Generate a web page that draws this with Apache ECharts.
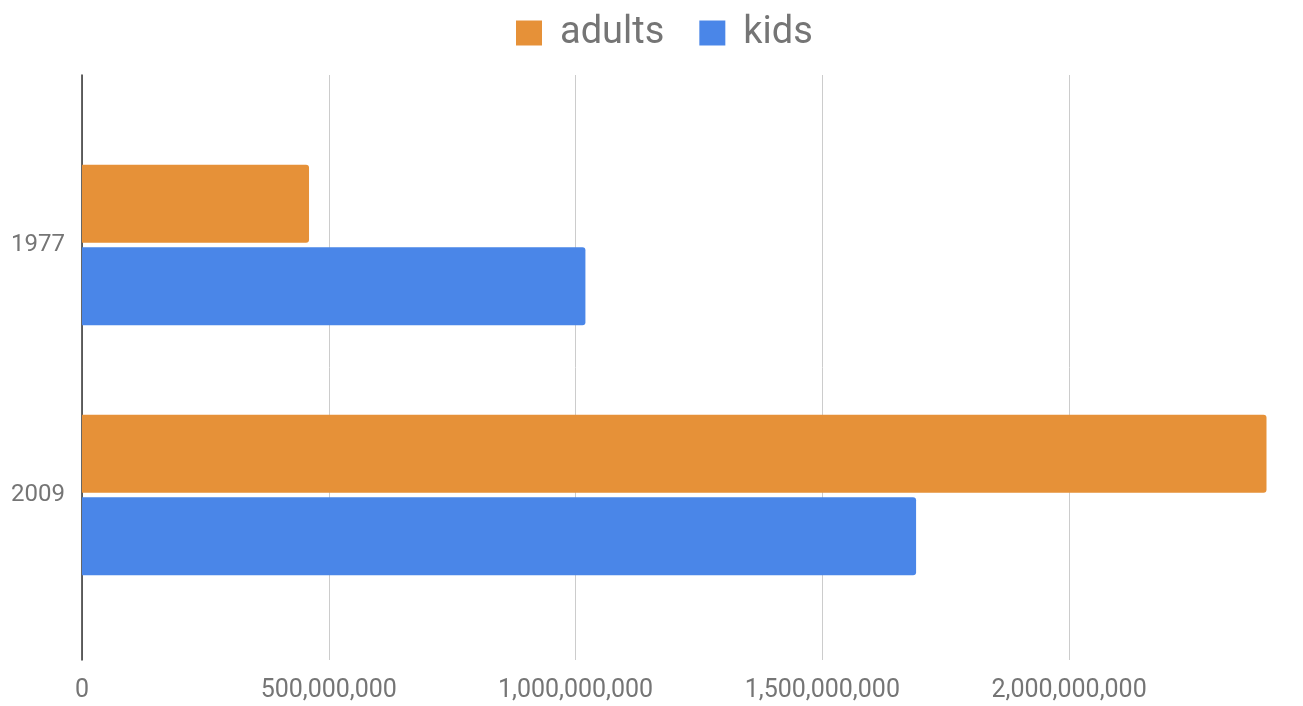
<!DOCTYPE html>
<html><head><meta charset="utf-8">
<script src="https://cdn.jsdelivr.net/npm/echarts@6/dist/echarts.min.js"></script>
<style>html,body{margin:0;padding:0;background:#fff}#c{width:1303px;height:706px}</style>
</head><body><div id="c"></div>
<script>
const categories = ['1977', '2009'];
const adults = [460000000, 2400000000];
const kids = [1020000000, 1690000000];
const xTicksMax = 2400000000;
const xInterval = 500000000;

const chart = echarts.init(document.getElementById('c'), null, {renderer: 'canvas'});
const fmt = v => Number(v).toLocaleString('en-US');
const FONT = 'Roboto';
chart.setOption({
  animation: false,
  color: ['#E69138', '#4A86E8'],
  legend: {
    top: 14, left: 516,
    itemWidth: 26, itemHeight: 25, itemGap: 35,
    icon: 'rect',
    padding: 0,
    textStyle: {fontFamily: FONT, fontSize: 38, color: '#757575', padding: [0, 0, 0, 13]},
    data: ['adults', 'kids']
  },
  grid: [
    {left: 82, right: 36.5, top: 120, height: 500},
    {left: 82, right: 36.5, top: 75, bottom: 46}
  ],
  xAxis: [
    {gridIndex: 0, type: 'value', min: 0, max: xTicksMax, interval: xInterval, show: false},
    {gridIndex: 1, type: 'value', min: 0, max: xTicksMax, interval: xInterval,
     axisLine: {show: false}, axisTick: {show: false},
     axisLabel: {fontFamily: FONT, fontSize: 25, color: '#757575', margin: 18, formatter: fmt, showMaxLabel: false},
     splitLine: {show: true, showMaxLine: false, lineStyle: {color: '#cccccc', width: 1}}}
  ],
  yAxis: [
    {gridIndex: 0, type: 'category', data: categories, inverse: true,
     axisLine: {show: false}, axisTick: {show: false},
     axisLabel: {fontFamily: FONT, fontSize: 24, color: '#757575', margin: 17}},
    {gridIndex: 1, type: 'value', min: 0, max: 1,
     axisLine: {show: true, lineStyle: {color: '#333333', width: 1.5}},
     axisTick: {show: false}, axisLabel: {show: false}, splitLine: {show: false}}
  ],
  series: [
    {name: 'adults', type: 'bar', xAxisIndex: 0, yAxisIndex: 0, data: adults,
     barWidth: 78, barGap: '6%', itemStyle: {borderRadius: [0, 3, 3, 0]}},
    {name: 'kids', type: 'bar', xAxisIndex: 0, yAxisIndex: 0, data: kids,
     barWidth: 78, barGap: '6%', itemStyle: {borderRadius: [0, 3, 3, 0]}}
  ]
});
</script></body></html>
